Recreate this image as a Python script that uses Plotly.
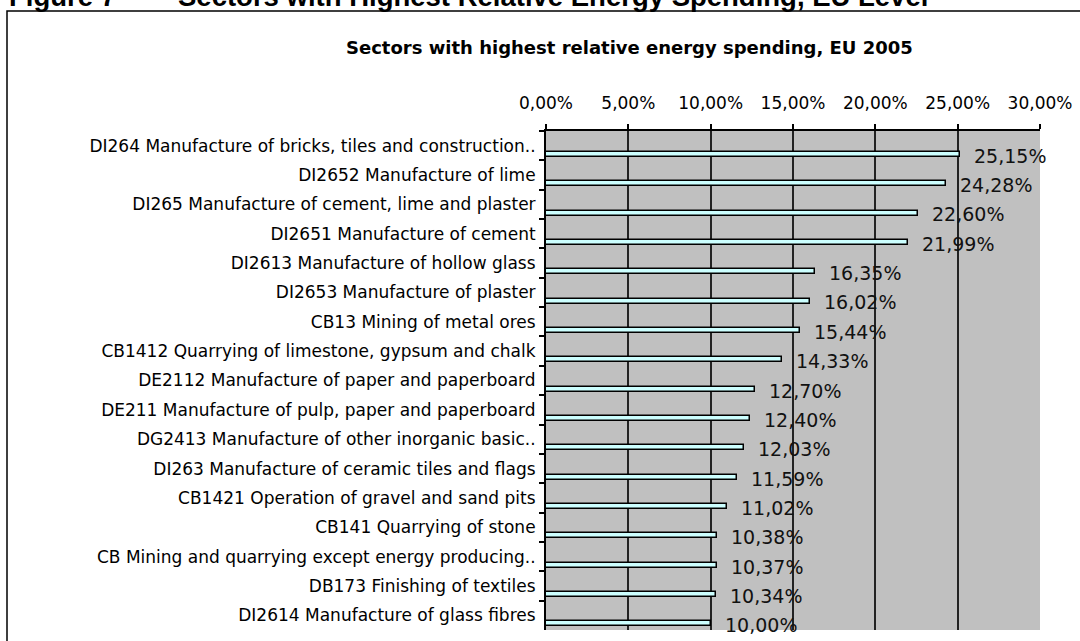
import plotly.graph_objects as go

# Sectors and their energy spending share (% of production value), EU 2005
sectors = [
    "DI264 Manufacture of bricks, tiles and construction..",
    "DI2652 Manufacture of lime",
    "DI265 Manufacture of cement, lime and plaster",
    "DI2651 Manufacture of cement",
    "DI2613 Manufacture of hollow glass",
    "DI2653 Manufacture of plaster",
    "CB13 Mining of metal ores",
    "CB1412 Quarrying of limestone, gypsum and chalk",
    "DE2112 Manufacture of paper and paperboard",
    "DE211 Manufacture of pulp, paper and paperboard",
    "DG2413 Manufacture of other inorganic basic..",
    "DI263 Manufacture of ceramic tiles and flags",
    "CB1421 Operation of gravel and sand pits",
    "CB141 Quarrying of stone",
    "CB Mining and quarrying except energy producing..",
    "DB173 Finishing of textiles",
    "DI2614 Manufacture of glass fibres",
]
energy_share = [25.15, 24.28, 22.60, 21.99, 16.35, 16.02, 15.44, 14.33,
                12.70, 12.40, 12.03, 11.59, 11.02, 10.38, 10.37, 10.34, 10.00]

x_ticks = [0, 5, 10, 15, 20, 25, 30]

FONT = "DejaVu Sans"


def pct_label(v):
    return f"{v:.2f}".replace(".", ",") + "%"


fig = go.Figure()
fig.add_trace(go.Bar(
    x=energy_share,
    y=sectors,
    orientation="h",
    width=0.17,
    offset=0.21,
    marker=dict(color="#CCFFFF", line=dict(color="#000000", width=1.5)),
    hoverinfo="skip",
    showlegend=False,
))

# value labels to the right of each bar
for name, v in zip(sectors, energy_share):
    fig.add_annotation(
        x=v, y=name, xref="x", yref="y",
        text=pct_label(v), showarrow=False,
        xanchor="left", yanchor="middle",
        xshift=12, yshift=-10,
        font=dict(family=FONT, size=19, color="#111111"),
    )

# plot area spans 546..1040 px horizontally and 131..630 px vertically
L, R, T, B = 546, 40, 131, 11
W, H = 1080, 641
pw, ph = W - L - R, H - T - B


def px_x(X):
    return (X - L) / pw


def px_y(Y):
    return (H - B - Y) / ph


# outer frame around the chart
fig.add_shape(type="rect", xref="paper", yref="paper",
              x0=px_x(7), x1=px_x(1090), y0=px_y(660), y1=px_y(11),
              line=dict(color="#000000", width=1.5), fillcolor="rgba(0,0,0,0)",
              layer="below")

# figure caption above the frame
fig.add_annotation(
    x=px_x(7), y=px_y(-3.2), xref="paper", yref="paper",
    text="Figure 7\u2002\u2013\u2003\u2009Sectors with Highest Relative Energy Spending, EU Level",
    showarrow=False, xanchor="left", yanchor="middle",
    font=dict(family="Liberation Sans", size=27.5, color="#000000", weight="bold"),
)

# chart title
fig.add_annotation(
    x=px_x(629), y=px_y(48), xref="paper", yref="paper",
    text="<b>Sectors with highest relative energy spending, EU 2005</b>",
    showarrow=False, xanchor="center", yanchor="middle",
    font=dict(family=FONT, size=18, color="#000000"),
)

fig.update_layout(
    width=W, height=H,
    margin=dict(l=L, r=R, t=T, b=B, autoexpand=False),
    paper_bgcolor="#FFFFFF",
    plot_bgcolor="#C0C0C0",
    separators=",.",
    bargap=0,
    xaxis=dict(
        side="top",
        range=[0, 30],
        tickvals=x_ticks,
        ticktext=[pct_label(v) for v in x_ticks],
        showgrid=True,
        gridcolor="#222222",
        gridwidth=1.5,
        zeroline=False,
        showline=True,
        linecolor="#000000",
        linewidth=2,
        ticks="outside",
        ticklen=5,
        tickwidth=1.5,
        tickcolor="#000000",
        ticklabelstandoff=8,
        tickfont=dict(family=FONT, size=17, color="#000000"),
        automargin=False,
        fixedrange=True,
    ),
    yaxis=dict(
        type="category",
        range=[len(sectors) - 0.5, -0.5],
        showgrid=False,
        zeroline=False,
        showline=True,
        linecolor="#000000",
        linewidth=2,
        ticks="outside",
        tickson="boundaries",
        ticklen=5,
        tickwidth=1.5,
        tickcolor="#000000",
        ticklabelstandoff=5,
        tickfont=dict(family=FONT, size=17, color="#000000"),
        automargin=False,
        fixedrange=True,
    ),
)

fig.write_html("out.html")
